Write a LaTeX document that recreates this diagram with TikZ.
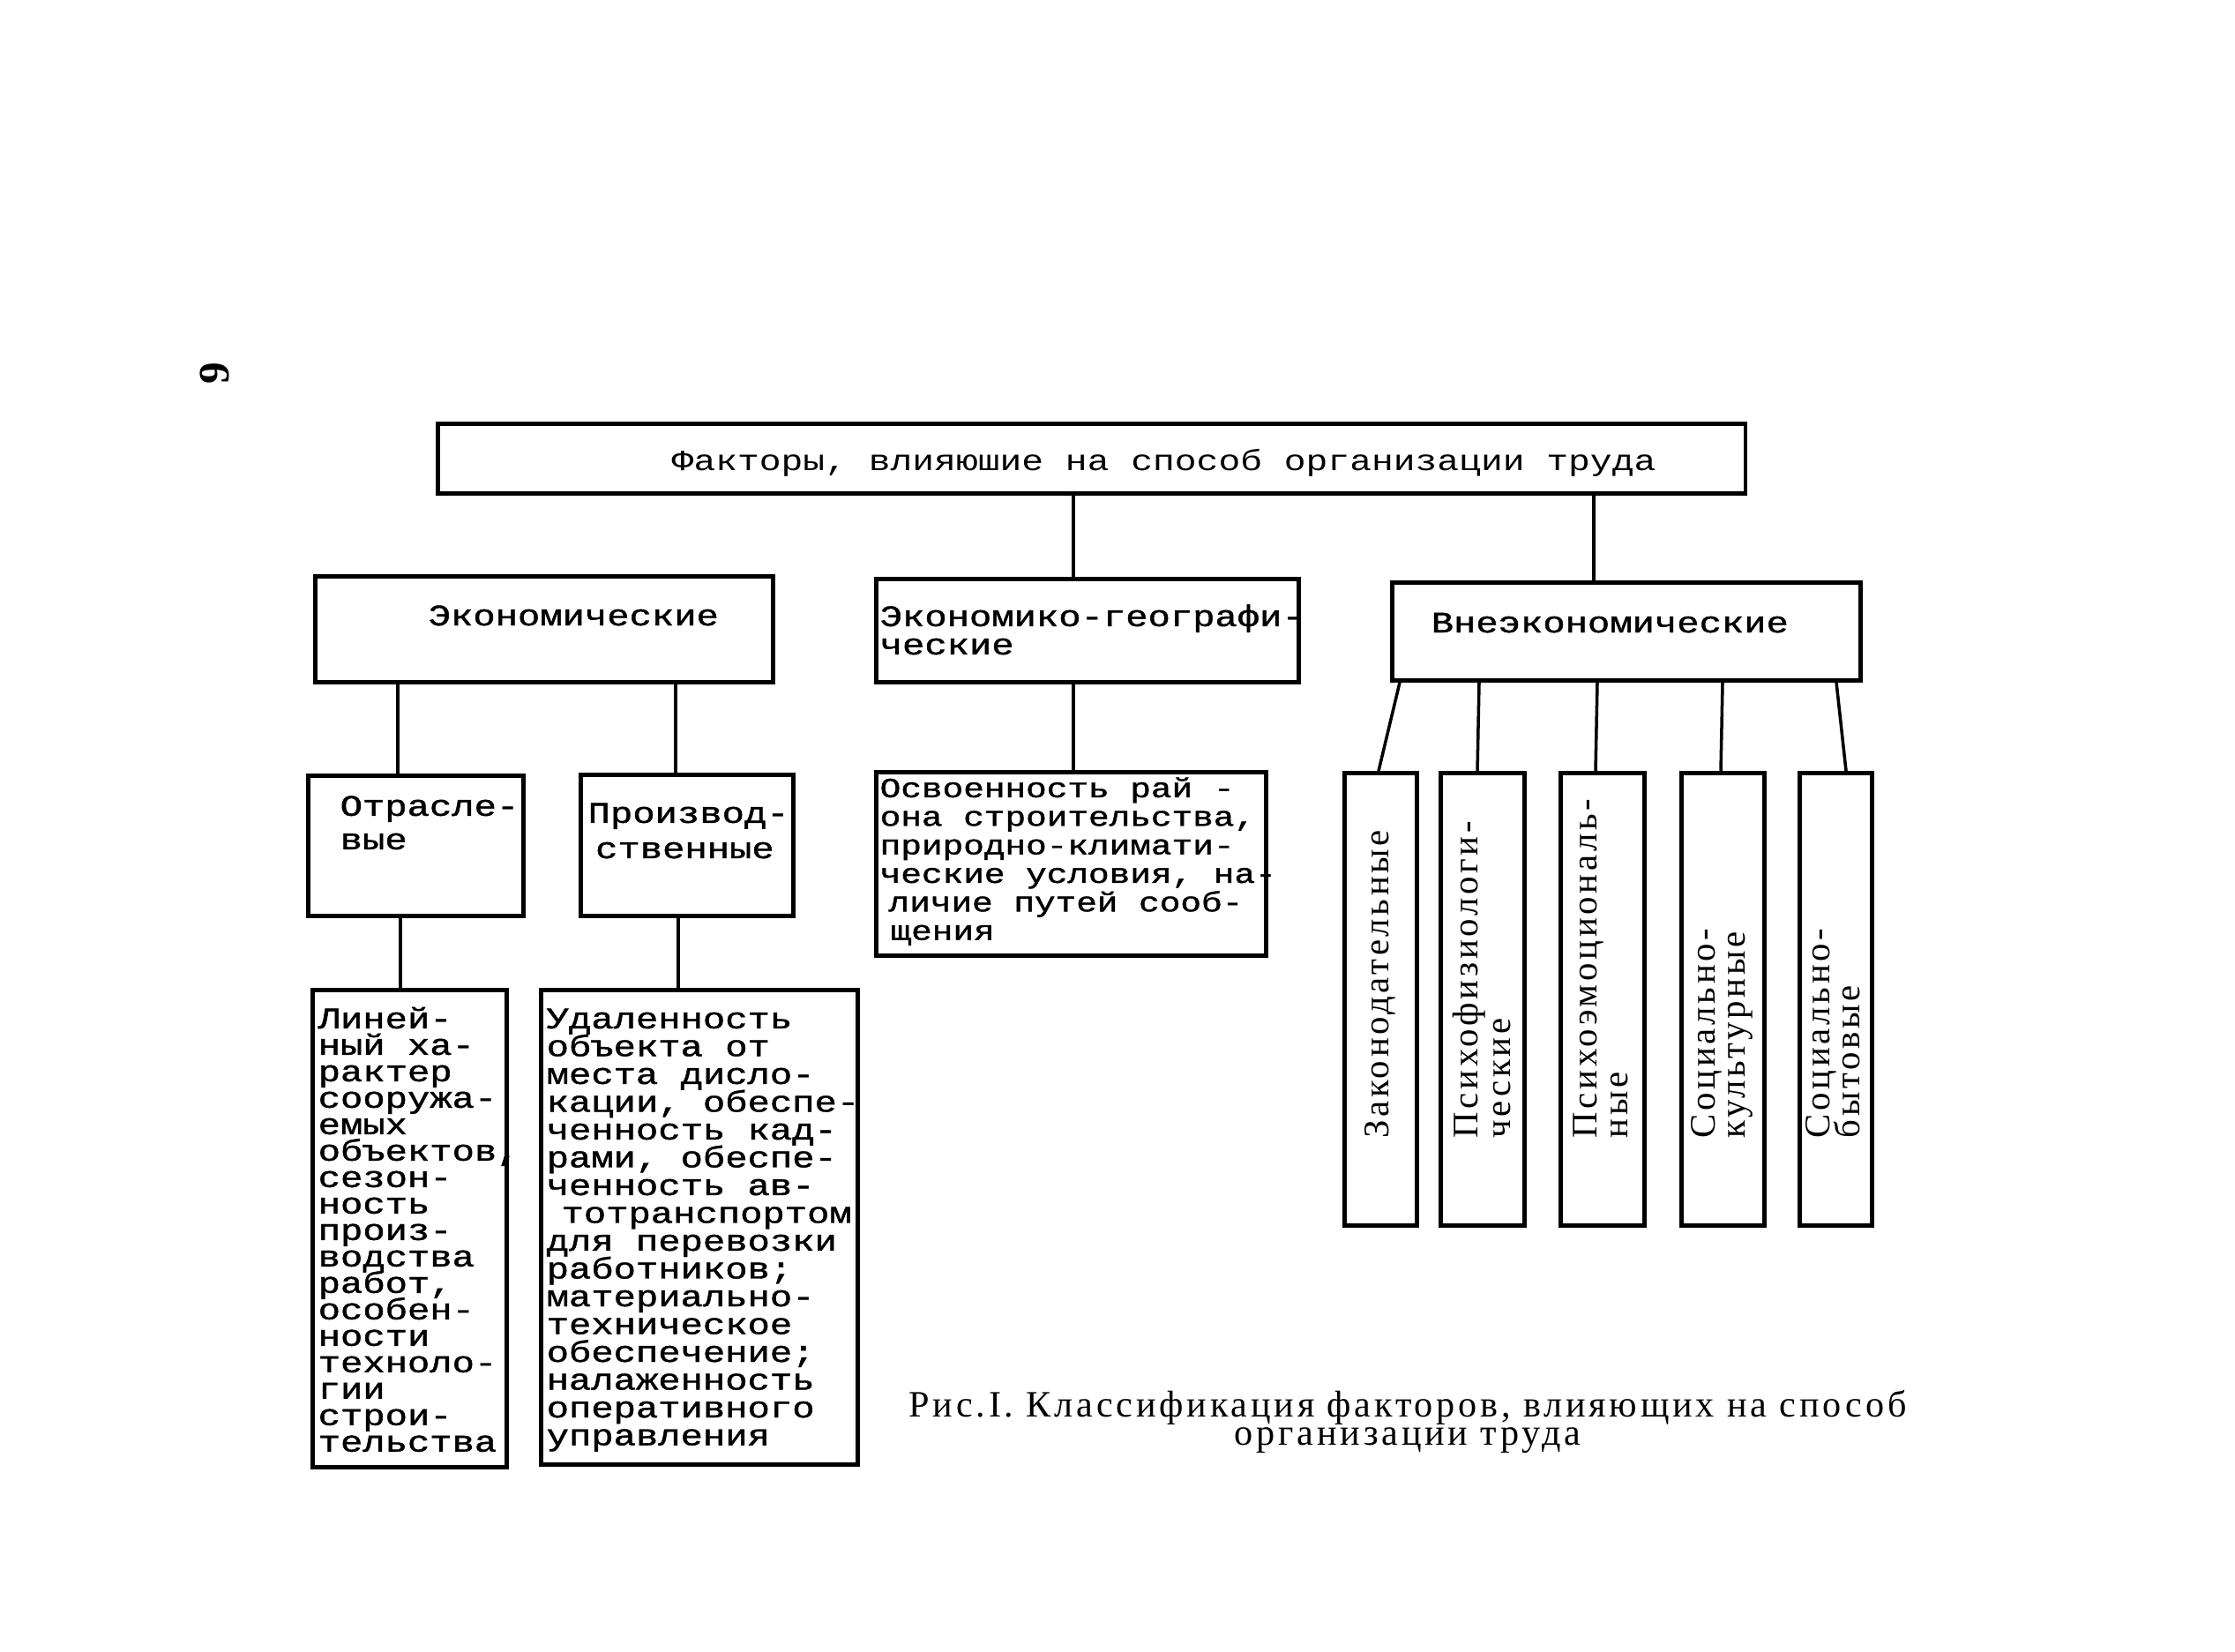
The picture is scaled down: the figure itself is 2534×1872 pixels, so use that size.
\documentclass[tikz,border=0pt]{standalone}
\usepackage{fontspec}
\setmainfont{Liberation Serif}
\newfontfamily\twfont[FakeBold=1.2]{Liberation Mono}
\newfontfamily\twlight{Liberation Mono}
\newfontfamily\capfont[LetterSpace=9]{Liberation Serif}
\newcommand\tstrut{\rule{0pt}{9pt}}
\begin{document}
\lineskiplimit=-16000pt
\lineskip=0pt
\begin{tikzpicture}[x=0.01cm,y=-0.01cm,
  box/.style={draw, line width=1.3pt, inner sep=0pt, anchor=north west},
  conn/.style={line width=1pt},
  tw/.style={inner sep=0pt, anchor=north west, align=left, transform shape, font=\twfont\fontsize{12pt}{#1}\selectfont},
  tw/.default=11pt,
  vt/.style={inner sep=0pt, anchor=base west, rotate=90, font=\capfont\fontsize{11.6pt}{12pt}\selectfont},
  squash/.style={yscale=0.8},
]
\useasboundingbox[fill=white] (0,0) rectangle (2534,1872);

% boxes
\node[box, minimum width=14.82cm, minimum height=0.79cm] (top) at (494,478) {};
\node[box, minimum width=5.19cm, minimum height=1.20cm] (econ) at (355,651) {};
\node[box, minimum width=4.79cm, minimum height=1.17cm] (geo) at (991,654) {};
\node[box, minimum width=5.31cm, minimum height=1.11cm] (vne) at (1576,658) {};
\node[box, minimum width=2.44cm, minimum height=1.59cm] (otr) at (347,877) {};
\node[box, minimum width=2.41cm, minimum height=1.60cm] (pro) at (656,876) {};
\node[box, minimum width=4.42cm, minimum height=2.08cm] (osv) at (991,873) {};
\node[box, minimum width=2.20cm, minimum height=5.41cm] (lin) at (352,1120) {};
\node[box, minimum width=3.59cm, minimum height=5.38cm] (udal) at (611,1120) {};
\node[box, minimum width=0.82cm, minimum height=5.13cm] (v1) at (1522,874) {};
\node[box, minimum width=0.95cm, minimum height=5.13cm] (v2) at (1631,874) {};
\node[box, minimum width=0.95cm, minimum height=5.13cm] (v3) at (1767,874) {};
\node[box, minimum width=0.94cm, minimum height=5.13cm] (v4) at (1904,874) {};
\node[box, minimum width=0.82cm, minimum height=5.13cm] (v5) at (2038,874) {};

% connectors
\coordinate (cA) at (1217,0);
\coordinate (cB) at (1807,0);
\coordinate (cC) at (451,0);
\coordinate (cD) at (766,0);
\coordinate (cE) at (454,0);
\coordinate (cF) at (769,0);
\draw[conn] (top.south -| cA) -- (geo.north -| cA);
\draw[conn] (geo.south -| cA) -- (osv.north -| cA);
\draw[conn] (top.south -| cB) -- (vne.north -| cB);
\draw[conn] (econ.south -| cC) -- (otr.north -| cC);
\draw[conn] (econ.south -| cD) -- (pro.north -| cD);
\draw[conn] (otr.south -| cE) -- (lin.north -| cE);
\draw[conn] (pro.south -| cF) -- (udal.north -| cF);
\coordinate (s1) at (1587,0); \coordinate (e1) at (1563,0);
\coordinate (s2) at (1677,0); \coordinate (e2) at (1675,0);
\coordinate (s3) at (1811,0); \coordinate (e3) at (1809,0);
\coordinate (s4) at (1953,0); \coordinate (e4) at (1951,0);
\coordinate (s5) at (2082,0); \coordinate (e5) at (2093,0);
\draw[conn] (vne.south -| s1) -- (v1.north -| e1);
\draw[conn] (vne.south -| s2) -- (v2.north -| e2);
\draw[conn] (vne.south -| s3) -- (v3.north -| e3);
\draw[conn] (vne.south -| s4) -- (v4.north -| e4);
\draw[conn] (vne.south -| s5) -- (v5.north -| e5);

% typewriter texts (vertically squashed like the typewriter face)
\begin{scope}[shift={(761,533)}, squash]
  \node[tw, anchor=base west, font=\twlight\fontsize{11.75pt}{12pt}\selectfont] (ttop) at (0,0) {Факторы, влияюшие на способ организации труда};
\end{scope}
\begin{scope}[shift={(485,709)}, squash]
  \node[tw, anchor=base west] (tecon) at (0,0) {Экономические};
\end{scope}
\begin{scope}[shift={(997,684)}, squash]
  \node[tw=11.4pt] (tgeo) at (0,0) {\tstrut Экономико-географи-\\ческие};
\end{scope}
\begin{scope}[shift={(1622,717)}, squash]
  \node[tw, anchor=base west] (tvne) at (0,0) {Внеэкономические};
\end{scope}
\begin{scope}[shift={(385,899)}, squash]
  \node[tw=13.5pt] (totr) at (0,0) {\tstrut Отрасле-\\вые};
\end{scope}
\begin{scope}[shift={(666,907)}, squash]
  \node[tw=14.25pt] (tpro) at (0,0) {\tstrut Производ-\\\hspace{0.2em}ственные};
\end{scope}
\begin{scope}[shift={(997,878)}, squash]
  \node[tw, font=\twfont\fontsize{11.2pt}{11.5pt}\selectfont] (tosv) at (0,0) {\tstrut Освоенность рай -\\она строительства,\\природно-климати-\\ческие условия, на-\\\hspace{0.25em}личие путей сооб-\\\hspace{0.3em}щения};
\end{scope}
\begin{scope}[shift={(360,1140)}, squash]
  \node[tw=10.66pt] (tlin) at (0,0) {\tstrut Линей-\\ный ха-\\рактер\\сооружа-\\емых\\объектов,\\сезон-\\ность\\произ-\\водства\\работ,\\особен-\\ности\\техноло-\\гии\\строи-\\тельства};
\end{scope}
\begin{scope}[shift={(619,1140)}, squash]
  \node[tw=11.2pt] (tudal) at (0,0) {\tstrut Удаленность\\объекта от\\места дисло-\\кации, обеспе-\\ченность кад-\\рами, обеспе-\\ченность ав-\\\hspace{0.4em}тотранспортом\\для перевозки\\работников;\\материально-\\техническое\\обеспечение;\\налаженность\\оперативного\\управления};
\end{scope}

% vertical labels
\node[vt] (t1) at (1574,1291) {Законодательные};
\node[vt] (t2a) at (1675,1291) {Психофизиологи-};
\node[vt] (t2b) at (1712,1291) {ческие};
\node[vt] (t3a) at (1810,1291) {Психоэмоциональ-};
\node[vt] (t3b) at (1845,1291) {ные};
\node[vt] (t4a) at (1944,1291) {Социально-};
\node[vt] (t4b) at (1978,1291) {культурные};
\node[vt] (t5a) at (2074,1291) {Социально-};
\node[vt] (t5b) at (2108,1291) {бытовые};

% caption
\node[inner sep=0pt, anchor=north, align=center, font=\capfont\fontsize{12pt}{9.1pt}\selectfont] (cap) at (1596,1574) {\tstrut Рис.I. Классификация факторов, влияющих на способ\\организации труда};

% page number
\node[rotate=90, inner sep=0pt, font=\bfseries\fontsize{14pt}{14pt}\selectfont] (pg) at (243,423) {9};
\end{tikzpicture}
\end{document}
